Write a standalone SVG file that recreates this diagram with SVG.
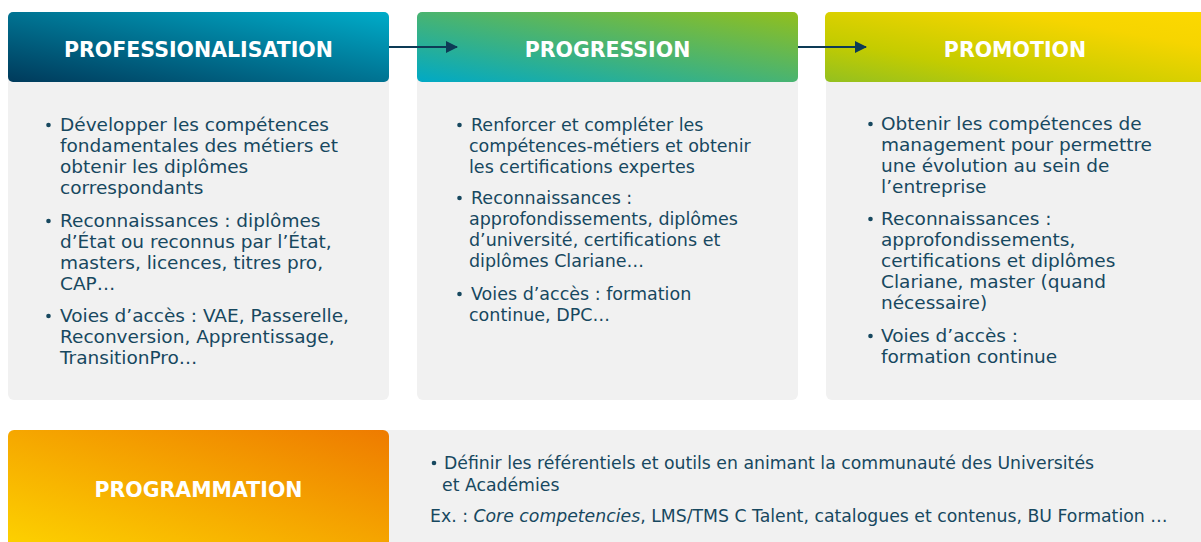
<svg xmlns="http://www.w3.org/2000/svg" width="1201" height="542" viewBox="0 0 1201 542">
<defs>
<linearGradient id="g1" x1="0" y1="1" x2="1" y2="0"><stop offset="0" stop-color="#003a5b"/><stop offset="1" stop-color="#00acc9"/></linearGradient>
<linearGradient id="g2" x1="0" y1="1" x2="1" y2="0"><stop offset="0" stop-color="#00a9c6"/><stop offset="1" stop-color="#92bf1c"/></linearGradient>
<linearGradient id="g3" x1="0" y1="1" x2="1" y2="0"><stop offset="0" stop-color="#93c020"/><stop offset="0.3" stop-color="#c4cc00"/><stop offset="0.75" stop-color="#f6d500"/><stop offset="1" stop-color="#fdd800"/></linearGradient>
<linearGradient id="g4" x1="0" y1="1" x2="1" y2="0"><stop offset="0" stop-color="#fdd300"/><stop offset="1" stop-color="#ee7b00"/></linearGradient>
<marker id="arr" markerWidth="12" markerHeight="12" refX="11" refY="6" orient="auto" markerUnits="userSpaceOnUse"><path d="M0,0 L12,6 L0,12 Z" fill="#0d3b56"/></marker>
<style>
.body{fill:#f1f1f1}
.hd{font-family:"DejaVu Sans","Open Sans",sans-serif;font-weight:700;font-size:20.5px;fill:#ffffff;text-anchor:middle}
.tx{font-family:"DejaVu Sans","Open Sans",sans-serif;font-size:18.5px;fill:#17485f}
.t2{font-size:17.5px}
.t4{font-size:17.3px}
.bl{fill:#17485f}
.cn{stroke:#0d3b56;stroke-width:2;fill:none}
</style>
</defs>
<g id="professionalisation">
<rect class="body" x="8" y="12" width="381" height="388" rx="6"/>
<rect x="8" y="12" width="381" height="70" rx="5" fill="url(#g1)"/>
<text class="hd" x="198.5" y="56.5">PROFESSIONALISATION</text>
<circle class="bl" cx="48.5" cy="125" r="2.3"/>
<text class="tx" x="60" y="131">Développer les compétences</text>
<text class="tx" x="60" y="152">fondamentales des métiers et</text>
<text class="tx" x="60" y="173">obtenir les diplômes</text>
<text class="tx" x="60" y="194">correspondants</text>
<circle class="bl" cx="48.5" cy="221" r="2.3"/>
<text class="tx" x="60" y="227">Reconnaissances : diplômes</text>
<text class="tx" x="60" y="248">d’État ou reconnus par l’État,</text>
<text class="tx" x="60" y="269">masters, licences, titres pro,</text>
<text class="tx" x="60" y="290">CAP…</text>
<circle class="bl" cx="48.5" cy="316" r="2.3"/>
<text class="tx" x="60" y="322">Voies d’accès : VAE, Passerelle,</text>
<text class="tx" x="60" y="343">Reconversion, Apprentissage,</text>
<text class="tx" x="60" y="364">TransitionPro…</text>
</g>
<g id="progression">
<rect class="body" x="417" y="12" width="381" height="388" rx="6"/>
<rect x="417" y="12" width="381" height="70" rx="5" fill="url(#g2)"/>
<text class="hd" x="607.5" y="56.5">PROGRESSION</text>
<circle class="bl" cx="459.5" cy="125" r="2.3"/>
<text class="tx t2" x="471" y="131">Renforcer et compléter les</text>
<text class="tx t2" x="469" y="152">compétences-métiers et obtenir</text>
<text class="tx t2" x="469" y="173">les certifications expertes</text>
<circle class="bl" cx="459.5" cy="198" r="2.3"/>
<text class="tx t2" x="471" y="204">Reconnaissances :</text>
<text class="tx t2" x="469" y="225">approfondissements, diplômes</text>
<text class="tx t2" x="469" y="246">d’université, certifications et</text>
<text class="tx t2" x="469" y="267">diplômes Clariane…</text>
<circle class="bl" cx="459.5" cy="294" r="2.3"/>
<text class="tx t2" x="471" y="300">Voies d’accès : formation</text>
<text class="tx t2" x="469" y="321">continue, DPC…</text>
</g>
<g id="promotion">
<rect class="body" x="826" y="12" width="381" height="388" rx="6"/>
<rect x="825" y="12" width="381" height="70" rx="5" fill="url(#g3)"/>
<text class="hd" x="1015" y="56.5">PROMOTION</text>
<circle class="bl" cx="870.5" cy="124" r="2.3"/>
<text class="tx" x="881" y="130">Obtenir les compétences de</text>
<text class="tx" x="881" y="151">management pour permettre</text>
<text class="tx" x="881" y="172">une évolution au sein de</text>
<text class="tx" x="881" y="193">l’entreprise</text>
<circle class="bl" cx="870.5" cy="219" r="2.3"/>
<text class="tx" x="881" y="225">Reconnaissances :</text>
<text class="tx" x="881" y="246">approfondissements,</text>
<text class="tx" x="881" y="267">certifications et diplômes</text>
<text class="tx" x="881" y="288">Clariane, master (quand</text>
<text class="tx" x="881" y="309">nécessaire)</text>
<circle class="bl" cx="870.5" cy="336" r="2.3"/>
<text class="tx" x="881" y="342">Voies d’accès :</text>
<text class="tx" x="881" y="363">formation continue</text>
</g>
<g id="programmation">
<rect class="body" x="380" y="430" width="830" height="120"/>
<rect x="8" y="430" width="381" height="120" rx="6" fill="url(#g4)"/>
<text class="hd" x="198.5" y="497">PROGRAMMATION</text>
<circle class="bl" cx="434" cy="463" r="2.3"/>
<text class="tx t4" x="444" y="469">Définir les référentiels et outils en animant la communauté des Universités</text>
<text class="tx t4" x="442" y="491">et Académies</text>
<text class="tx t4" x="430" y="522">Ex. : <tspan font-style="italic">Core competencies</tspan>, LMS/TMS C Talent, catalogues et contenus, BU Formation …</text>
</g>
<g id="connectors">
<line class="cn" x1="389" y1="47" x2="457" y2="47" marker-end="url(#arr)"/>
<line class="cn" x1="798" y1="47" x2="866" y2="47" marker-end="url(#arr)"/>
</g>
</svg>
